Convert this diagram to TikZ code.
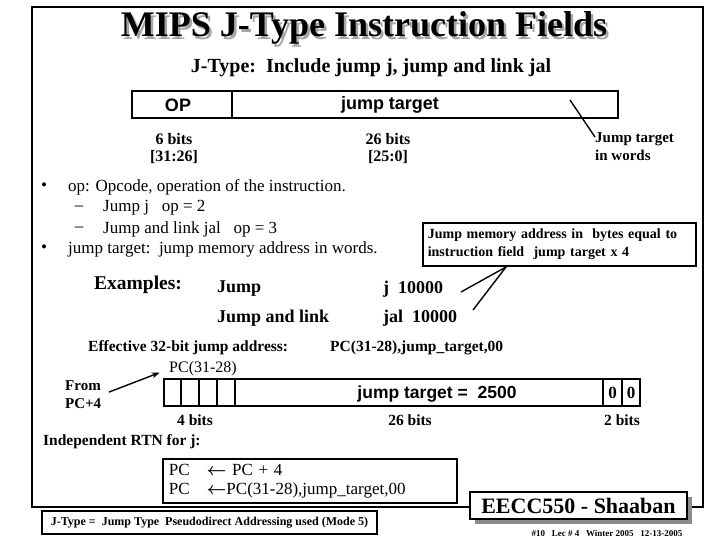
\documentclass[tikz,border=0pt]{standalone}
\usepackage{fontspec}
\setmainfont{Liberation Serif}
\newfontfamily\arialfont{Liberation Sans}
\usetikzlibrary{arrows.meta, positioning}

\begin{document}
\begin{tikzpicture}[x=1pt, y=-1pt,
    bf/.style={inner sep=0pt, font=\bfseries\fontsize{#1}{18}\selectfont},
    rm/.style={inner sep=0pt, font=\fontsize{#1}{18}\selectfont},
    sf/.style={inner sep=0pt, font=\arialfont\bfseries\fontsize{#1}{18}\selectfont},
    fieldline/.style={line width=1.6pt},
    linkline/.style={line width=1.4pt}]
    \useasboundingbox (0,0) rectangle (720,540);

    % Outer frame
    \draw[line width=2.6pt] (32,7) rectangle (703,507);

    % Title with shadow
    \node[bf=36, black!35] (titleShadow) at (366.5,30.5) {MIPS J-Type Instruction Fields};
    \node[bf=36] (title) at (364,28) {MIPS J-Type Instruction Fields};
    \node[bf=20] (subtitle) at (371,68) {J-Type:\ \ Include jump j, jump and link jal};

    % Instruction format
    \draw[fieldline] (132,91) rectangle (618,118);
    \draw[fieldline] (232,91) -- (232,118);
    \node[sf=18] (opFld) at (178,105) {OP};
    \node[sf=18] (jtFld) at (390,105) {jump target};

    \node[bf=16, align=center] (opBits) at (174,149) {6 bits\\[-1pt][31:26]};
    \node[bf=16, align=center] (jtBits) at (388,149) {26 bits\\[-1pt][25:0]};
    \node[bf=15, align=left, anchor=north west] (wordsLbl) at (595,132) {Jump target\\in words};
    \coordinate (tickTop) at (570,100);
    \draw[linkline] (tickTop) -- ([yshift=-5pt]wordsLbl.north west);

    % Bullets
    \node[rm=17] (dotA) at (44,187) {\textbullet};
    \node[rm=17, anchor=west] (opText) at (68,187) {op: Opcode, operation of the instruction.};
    \node[rm=17] (dashA) at (79,208) {--};
    \node[rm=17, anchor=west] (opJ) at (103,208) {Jump j \ \ op = 2};
    \node[rm=17] (dashB) at (79,229) {--};
    \node[rm=17, anchor=west] (opJal) at (103,229) {Jump and link jal \ \ op = 3};
    \node[rm=17] (dotB) at (44,249) {\textbullet};
    \node[rm=17, anchor=west] (jtText) at (68,249) {jump target:\ \ jump memory address in words.};

    % Byte address note
    \node[bf=14, draw, line width=1.6pt, align=left, anchor=north west,
          text width=263pt, inner xsep=5pt, minimum height=43pt] (memBox) at (422,222)
          {Jump memory address in\ \ bytes equal to\\instruction field\ \ jump target x 4};
    \coordinate (vApex) at (506,267);
    \coordinate (jTip) at (461,292);
    \coordinate (jalTip) at (473,310);
    \draw[linkline] (jTip) -- (vApex) -- (jalTip);

    % Examples
    \node[bf=19.5, anchor=west] (exLbl) at (94,285) {Examples:};
    \node[bf=18, anchor=west] (exJump) at (217,289) {Jump};
    \node[bf=18, anchor=west] (exJ) at (383,289) {j\ \ 10000};
    \node[bf=18, anchor=west] (exLink) at (217,318) {Jump and link};
    \node[bf=18, anchor=west] (exJal) at (383,318) {jal\ \ 10000};

    % Effective address
    \node[bf=15.5, anchor=west] (effLbl) at (88,348) {Effective 32-bit jump address:};
    \node[bf=15.5, anchor=west] (effVal) at (330,348) {PC(31-28),jump\_target,00};
    \node[rm=16, anchor=west] (pcHi) at (169,369) {PC(31-28)};
    \node[bf=15, align=left, anchor=west] (fromPC) at (65,395) {From\\PC+4};
    \draw[-{Stealth[length=8pt, width=6pt]}, linkline, shorten <=8pt, shorten >=10pt]
        (fromPC.east) -- (pcHi.west);

    % Address fields
    \draw[fieldline] (164,379) rectangle (640,406);
    \foreach \x in {181,199,217,235,603,622}
        \draw[fieldline] (\x,379) -- (\x,406);
    \node[sf=17.5] (jtVal) at (437,394) {jump target =\ \ 2500};
    \node[bf=17] (zeroA) at (612.5,393) {0};
    \node[bf=17] (zeroB) at (631,393) {0};
    \node[bf=15.5] (bitsHi) at (195,420) {4 bits};
    \node[bf=15.5] (bitsMid) at (410,420) {26 bits};
    \node[bf=15.5] (bitsLo) at (622,420) {2 bits};

    % RTN
    \node[bf=15.5, anchor=west] (rtnLbl) at (43,442) {Independent RTN for j:};
    \node[rm=17, draw, line width=1.6pt, align=left, anchor=north west,
          text width=282pt, inner xsep=6pt, minimum height=44pt] (rtnBox) at (162,458)
          {PC\ \ \ {\boldmath$\leftarrow$}\ PC + 4\\[1pt]PC\ \ \ {\boldmath$\leftarrow$}PC(31-28),jump\_target,00};

    % Footer boxes
    \fill[black!45] (475,497) rectangle (692,524);
    \node[bf=22, draw, fill=white, line width=1.6pt, minimum width=217pt,
          minimum height=27pt] (course) at (578.5,505.5) {EECC550 - Shaaban};
    \node[bf=9] (slideInfo) at (607,533) {\#10\ \ \ Lec \# 4\ \ \ Winter 2005\ \ \ 12-13-2005};
    \node[bf=12, draw, line width=1.6pt, minimum width=335pt,
          minimum height=23pt] (modeBox) at (209.5,522.5)
          {J-Type =\ \ Jump Type\ \ Pseudodirect Addressing used (Mode 5)};
\end{tikzpicture}
\end{document}
